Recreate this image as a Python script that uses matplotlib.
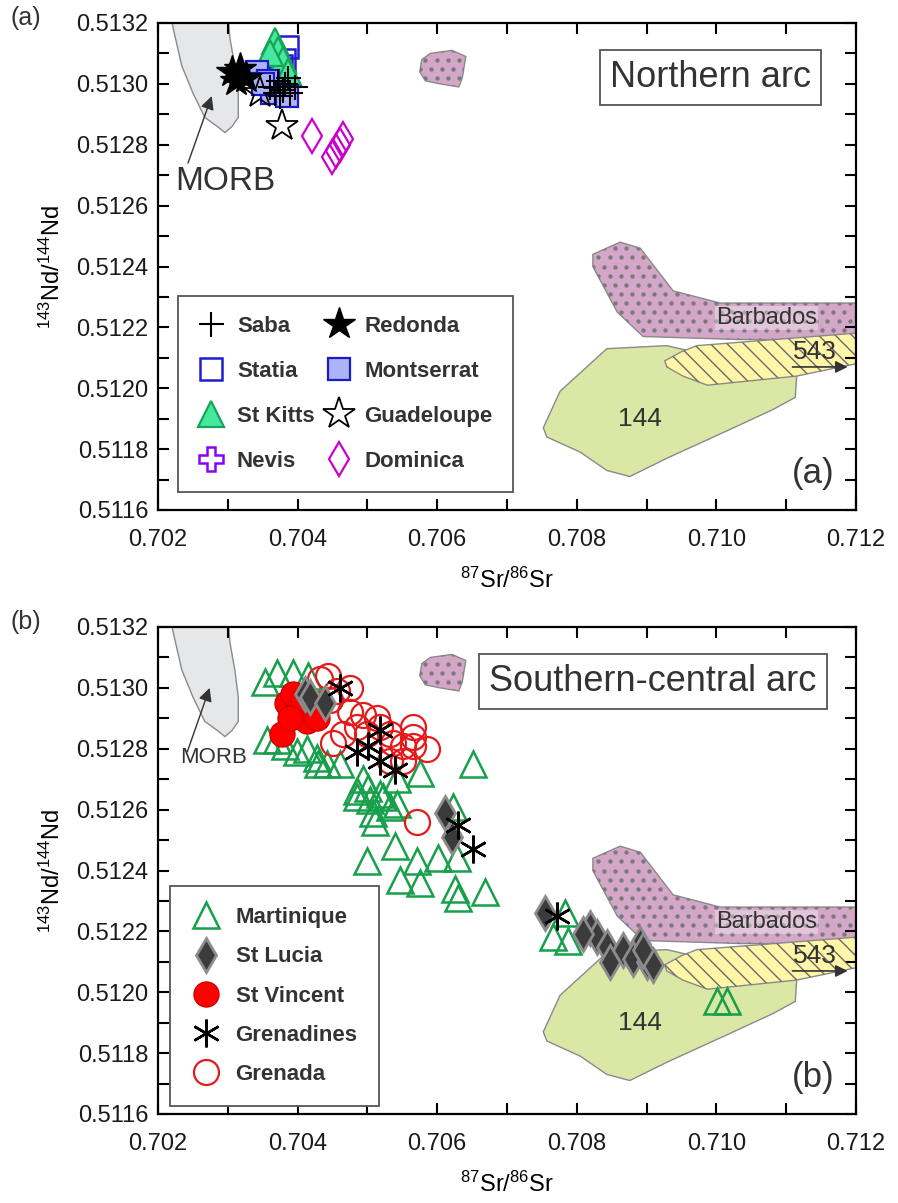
import numpy as np
import matplotlib
matplotlib.use('Agg')
import matplotlib.pyplot as plt
from matplotlib.patches import Polygon
from matplotlib.ticker import MultipleLocator, FormatStrFormatter

plt.rcParams['font.family'] = ['Liberation Sans', 'DejaVu Sans']
plt.rcParams['mathtext.fontset'] = 'custom'
plt.rcParams['mathtext.rm'] = 'Liberation Sans'
plt.rcParams['hatch.linewidth'] = 1.0

### reference fields (87Sr/86Sr, 143Nd/144Nd)
morb_x = [0.70216, 0.70300, 0.70303, 0.70310, 0.70315, 0.70315, 0.70306, 0.70296, 0.70285, 0.70267, 0.70250, 0.70234, 0.70222]
morb_y = [0.51325, 0.51325, 0.51315, 0.51306, 0.51297, 0.51289, 0.51286, 0.51284, 0.51286, 0.51289, 0.51297, 0.51306, 0.51318]
blob_x = [0.70590, 0.70621, 0.70641, 0.70636, 0.70631, 0.70604, 0.70583, 0.70575, 0.70578]
blob_y = [0.51310, 0.51311, 0.51309, 0.51302, 0.51299, 0.51300, 0.51301, 0.51304, 0.51308]
barb_x = [0.70823, 0.70862, 0.70891, 0.70938, 0.71005, 0.71250, 0.71250, 0.71091, 0.71034, 0.70895, 0.70858, 0.70823]
barb_y = [0.51244, 0.51248, 0.51246, 0.51232, 0.51228, 0.51228, 0.51218, 0.51216, 0.51216, 0.51217, 0.51225, 0.51240]
f543_x = [0.70926, 0.70950, 0.70972, 0.71250, 0.71250, 0.71199, 0.71115, 0.70987, 0.70952, 0.70929]
f543_y = [0.51209, 0.51212, 0.51214, 0.51219, 0.51208, 0.51208, 0.51204, 0.51201, 0.51204, 0.51207]
f144_x = [0.70752, 0.70776, 0.70843, 0.70929, 0.71115, 0.71113, 0.71081, 0.71015, 0.70929, 0.70876, 0.70843, 0.70805, 0.70757]
f144_y = [0.51187, 0.51199, 0.51213, 0.51214, 0.51204, 0.51197, 0.51193, 0.51186, 0.51177, 0.51171, 0.51173, 0.51179, 0.51184]

### northern arc
saba_x = [0.70368, 0.70379, 0.70389, 0.70375, 0.70396, 0.70360, 0.70382, 0.70372, 0.70386]
saba_y = [0.51297, 0.51298, 0.51297, 0.51296, 0.51299, 0.51299, 0.51300, 0.51301, 0.51302]
statia_x = [0.70385, 0.70380, 0.70349, 0.70370, 0.70376]
statia_y = [0.51312, 0.51308, 0.51304, 0.51302, 0.51306]
kitts_x = [0.70368, 0.70372, 0.70379, 0.70386, 0.70360]
kitts_y = [0.51314, 0.51311, 0.51308, 0.51304, 0.51310]
nevis_x = [0.70365]
nevis_y = [0.51300]
redonda_x = [0.70306, 0.70317, 0.70326, 0.70312]
redonda_y = [0.51304, 0.51305, 0.51302, 0.51301]
monts_x = [0.70342, 0.70358, 0.70363, 0.70385, 0.70350]
monts_y = [0.51304, 0.51301, 0.51297, 0.51296, 0.51300]
guad_x = [0.70346, 0.70378]
guad_y = [0.51297, 0.51286]
domin_x = [0.70421, 0.70465, 0.70461, 0.70455, 0.70449]
domin_y = [0.51283, 0.51282, 0.51280, 0.51278, 0.51276]

### southern-central arc
mart_x = [0.70370, 0.70353, 0.70393, 0.70415, 0.70370, 0.70413, 0.70428, 0.70461, 0.70429, 0.70575,
          0.70651, 0.70542, 0.70501, 0.70485, 0.70504, 0.70522, 0.70542, 0.70508, 0.70623, 0.70511,
          0.70499, 0.70540, 0.70571, 0.70601, 0.70628, 0.70547, 0.70575, 0.70626, 0.70630, 0.70668,
          0.70356, 0.70399, 0.70442, 0.70382, 0.70485, 0.70494, 0.70518, 0.70532,
          0.70783, 0.70766, 0.70787, 0.71001, 0.71015]
mart_y = [0.51305, 0.51302, 0.51305, 0.51304, 0.51283, 0.51280, 0.51277, 0.51275, 0.51275, 0.51272,
          0.51275, 0.51270, 0.51267, 0.51264, 0.51263, 0.51264, 0.51262, 0.51259, 0.51261, 0.51256,
          0.51243, 0.51248, 0.51243, 0.51244, 0.51244, 0.51237, 0.51236, 0.51234, 0.51231, 0.51233,
          0.51283, 0.51279, 0.51275, 0.51281, 0.51266, 0.51270, 0.51265, 0.51261,
          0.51226, 0.51218, 0.51217, 0.51197, 0.51197]
lucia_x = [0.70411, 0.70418, 0.70439, 0.70611, 0.70621, 0.70754, 0.70819, 0.70829, 0.70843, 0.70848,
           0.70866, 0.70891, 0.70881, 0.70901, 0.70909, 0.70895, 0.70809]
lucia_y = [0.51298, 0.51297, 0.51295, 0.51259, 0.51251, 0.51226, 0.51221, 0.51218, 0.51215, 0.51210,
           0.51214, 0.51216, 0.51211, 0.51210, 0.51209, 0.51214, 0.51219]
vinc_x = [0.70378, 0.70385, 0.70399, 0.70413, 0.70428, 0.70393, 0.70408, 0.70389]
vinc_y = [0.51285, 0.51295, 0.51293, 0.51289, 0.51290, 0.51298, 0.51296, 0.51290]
grenad_x = [0.70461, 0.70518, 0.70501, 0.70485, 0.70518, 0.70540, 0.70651, 0.70630, 0.70772]
grenad_y = [0.51300, 0.51286, 0.51281, 0.51279, 0.51276, 0.51273, 0.51247, 0.51255, 0.51225]
grenada_x = [0.70444, 0.70475, 0.70456, 0.70446, 0.70475, 0.70494, 0.70514, 0.70518, 0.70485, 0.70451,
             0.70465, 0.70499, 0.70532, 0.70537, 0.70551, 0.70565, 0.70565, 0.70585, 0.70565, 0.70551,
             0.70532, 0.70571, 0.70432]
grenada_y = [0.51304, 0.51300, 0.51299, 0.51296, 0.51292, 0.51291, 0.51290, 0.51287, 0.51287, 0.51282,
             0.51285, 0.51285, 0.51285, 0.51282, 0.51281, 0.51287, 0.51284, 0.51280, 0.51281, 0.51276,
             0.51276, 0.51256, 0.51303]

TXT = '#333333'


def fields(ax, morb_size, morb_pos, morb_arrow):
    # pink fields with dots
    for fx, fy in [(blob_x, blob_y), (barb_x, barb_y)]:
        p = Polygon(np.c_[fx, fy], closed=True, fc='#d4a7c9', ec='#8a8a8a', lw=1.0, zorder=1)
        ax.add_patch(p)
        gx = np.arange(min(fx), max(fx), 0.00016)
        gy = np.arange(min(fy), max(fy), 0.00003)
        X, Y = np.meshgrid(gx, gy)
        X = X + (np.arange(len(gy)) % 2)[:, None] * 0.00008
        keep = (X < 0.71195) & (Y < 0.51318)
        sc = ax.scatter(X[keep], Y[keep], s=10, c='#7a7a7a', lw=0, zorder=1.2)
        sc.set_clip_path(p)
    ax.add_patch(Polygon(np.c_[f144_x, f144_y], closed=True, fc='#dbe7a4', ec='#8a8a8a', lw=1.0, zorder=1.4))
    ax.add_patch(Polygon(np.c_[f543_x, f543_y], closed=True, fc='#fff6a8', ec='#8a8a8a', lw=1.0, zorder=1.5))
    ax.add_patch(Polygon(np.c_[f543_x, f543_y], closed=True, fc='none', ec='#6a6a6a', lw=0, hatch='\\\\', zorder=1.6))
    ax.add_patch(Polygon(np.c_[morb_x, morb_y], closed=True, fc='#e6e7e9', ec='#8a8a8a', lw=1.0, zorder=1))
    ax.text(0.71072, 0.51223, 'Barbados', fontsize=17, color=TXT, ha='center', va='center', zorder=2,
            bbox=dict(boxstyle='square,pad=0.05', fc='white', ec='none', alpha=0.35))
    ax.text(0.71141, 0.51212, '543', fontsize=19, color=TXT, ha='center', va='center', zorder=2)
    ax.text(0.70891, 0.51190, '144', fontsize=19, color=TXT, ha='center', va='center', zorder=2)
    ax.annotate('', xy=(0.71192, 0.51207), xytext=(0.71105, 0.51207), zorder=2,
                arrowprops=dict(arrowstyle='-|>', color='#333333', lw=1.2, mutation_scale=18))
    ax.text(morb_pos[0], morb_pos[1], 'MORB', fontsize=morb_size, color=TXT, ha='center', va='center', zorder=2)
    ax.annotate('', xy=morb_arrow[1], xytext=morb_arrow[0], zorder=2,
                arrowprops=dict(arrowstyle='-|>', color='#333333', lw=1.0, mutation_scale=20,
                                shrinkA=0, shrinkB=0))


def frame(ax, tag, title, tx):
    ax.set_xlim(0.702, 0.712)
    ax.set_ylim(0.5116, 0.5132)
    ax.xaxis.set_major_locator(MultipleLocator(0.002))
    ax.xaxis.set_minor_locator(MultipleLocator(0.001))
    ax.yaxis.set_major_locator(MultipleLocator(0.0002))
    ax.yaxis.set_minor_locator(MultipleLocator(0.0001))
    ax.xaxis.set_major_formatter(FormatStrFormatter('%.3f'))
    ax.yaxis.set_major_formatter(FormatStrFormatter('%.4f'))
    ax.tick_params(which='both', direction='in', top=True, right=True, length=8, width=1.5,
                   labelsize=17, labelcolor='#1a1a1a')
    ax.tick_params(axis='x', which='both', pad=14)
    ax.tick_params(axis='y', which='both', pad=7)
    for s in ax.spines.values():
        s.set_linewidth(1.6)
    ax.set_xlabel(r'$\mathregular{^{87}Sr/^{86}Sr}$', fontsize=17, labelpad=12)
    ax.set_ylabel(r'$\mathregular{^{143}Nd/^{144}Nd}$', fontsize=17, labelpad=8)
    ax.text(0.71138, 0.51172, '(' + tag + ')', fontsize=25, color=TXT, ha='center', va='center', zorder=5)
    ax.text(-0.212, 1.01, '(' + tag + ')', transform=ax.transAxes, fontsize=18, color=TXT,
            ha='left', va='center')
    ax.text(tx, 0.51302, title, fontsize=26, color=TXT, ha='center', va='center', zorder=5,
            bbox=dict(boxstyle='square,pad=0.28', fc='white', ec='#555555', lw=1.3))


fig = plt.figure(figsize=(8.98, 12.03), dpi=100)
ax_a = fig.add_axes([158 / 898, 1 - 510 / 1203, 698 / 898, 487 / 1203])
ax_b = fig.add_axes([158 / 898, 1 - 1114 / 1203, 698 / 898, 487 / 1203])

#### (a) northern arc
fields(ax_a, 24, (0.70297, 0.51268), ((0.70243, 0.51274), (0.70277, 0.51296)))
frame(ax_a, 'a', 'Northern arc', 0.70992)

ax_a.plot(nevis_x, nevis_y, ls='none', marker='P', ms=17, mfc='white', mec='#8a00ff', mew=1.8, label='Nevis', zorder=3)
ax_a.plot(statia_x, statia_y, ls='none', marker='s', ms=16, mfc='none', mec='#1f1fcf', mew=1.8, label='Statia', zorder=3)
ax_a.plot(kitts_x, kitts_y, ls='none', marker='^', ms=19, mfc='#46e89e', mec='#18a35a', mew=1.6, label='St Kitts', zorder=3)
ax_a.plot(monts_x, monts_y, ls='none', marker='s', ms=16, mfc='#adb3f7', mec='#1a1ac8', mew=1.6, label='Montserrat', zorder=3)
ax_a.plot(redonda_x, redonda_y, ls='none', marker='*', ms=24, color='black', label='Redonda', zorder=3)
ax_a.plot(saba_x, saba_y, ls='none', marker='+', ms=18, color='black', mew=1.5, label='Saba', zorder=3)
ax_a.plot(guad_x, guad_y, ls='none', marker='*', ms=24, mfc='none', mec='black', mew=1.3, label='Guadeloupe', zorder=3)
ax_a.plot(domin_x, domin_y, ls='none', marker='d', ms=17, mfc='none', mec='#cc00cc', mew=1.6, label='Dominica', zorder=3)

h, l = ax_a.get_legend_handles_labels()
order = ['Saba', 'Statia', 'St Kitts', 'Nevis', 'Redonda', 'Montserrat', 'Guadeloupe', 'Dominica']
hh = [h[l.index(o)] for o in order]
leg = ax_a.legend(hh, order, ncol=2, loc='upper left', bbox_to_anchor=(0.0287, 0.4394), borderaxespad=0,
                  numpoints=1, fancybox=False, edgecolor='#555555', framealpha=1,
                  prop={'size': 16, 'weight': 'bold'}, borderpad=0.9, handlelength=1.2,
                  handletextpad=0.55, columnspacing=0.5, labelspacing=1.08)
leg.get_frame().set_linewidth(1.3)
for t in leg.get_texts():
    t.set_color(TXT)

#### (b) southern-central arc
fields(ax_b, 16, (0.70280, 0.51277), ((0.70242, 0.51279), (0.70274, 0.51300)))
frame(ax_b, 'b', 'Southern-central arc', 0.70909)

ax_b.plot(mart_x, mart_y, ls='none', marker='^', ms=19, mfc='none', mec='#16a04c', mew=1.8, label='Martinique', zorder=3)
ax_b.plot(vinc_x, vinc_y, ls='none', marker='o', ms=18, mfc='#ff0000', mec='#d40000', mew=1.0, label='St Vincent', zorder=3)
ax_b.plot(grenada_x, grenada_y, ls='none', marker='o', ms=18, mfc='none', mec='#e41a1a', mew=1.6, label='Grenada', zorder=3)
ax_b.plot(lucia_x, lucia_y, ls='none', marker='d', ms=17, mfc='#3b3b3b', mec='#8c8c8c', mew=2.0, label='St Lucia', zorder=3)
ax_b.plot(grenad_x, grenad_y, ls='none', marker=(6, 2, 0), ms=20, color='black', mew=1.8, label='Grenadines', zorder=3)

h, l = ax_b.get_legend_handles_labels()
order = ['Martinique', 'St Lucia', 'St Vincent', 'Grenadines', 'Grenada']
hh = [h[l.index(o)] for o in order]
leg = ax_b.legend(hh, order, loc='upper left', bbox_to_anchor=(0.0172, 0.468), borderaxespad=0,
                  numpoints=1, fancybox=False, edgecolor='#555555', framealpha=1,
                  prop={'size': 16, 'weight': 'bold'}, borderpad=0.95, handlelength=1.3,
                  handletextpad=0.7, labelspacing=0.82)
leg.get_frame().set_linewidth(1.3)
for t in leg.get_texts():
    t.set_color(TXT)

fig.savefig('out.png', dpi=100)
